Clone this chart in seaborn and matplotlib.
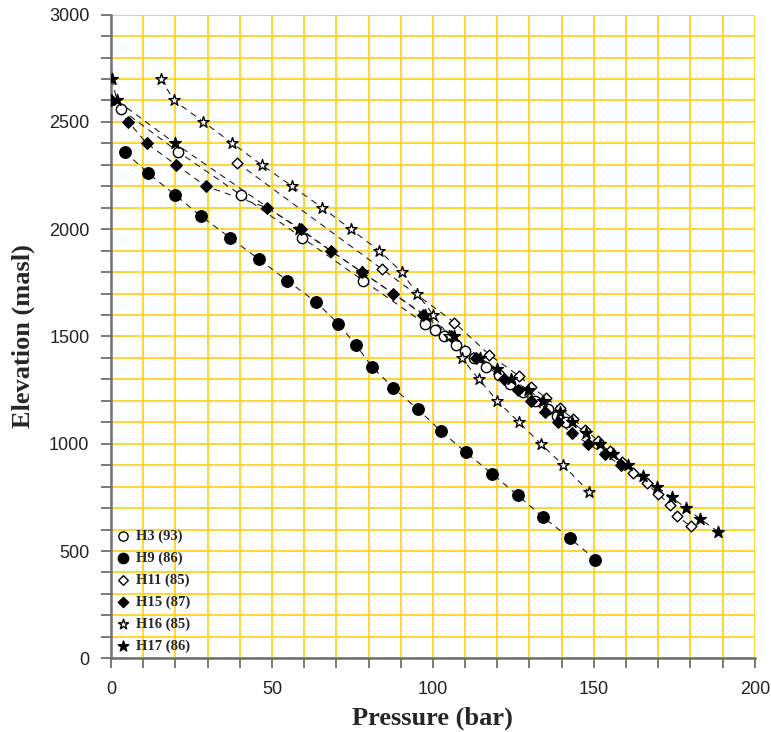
import numpy as np
import pandas as pd
import matplotlib
matplotlib.use("Agg")
import matplotlib.pyplot as plt
from matplotlib.ticker import MultipleLocator
import seaborn as sns

# ---------------- data ----------------
h3_p = [3.0, 20.9, 40.3, 59.4, 78.4, 97.5, 100.5, 103.4, 107.2, 110.0, 112.8, 116.6,
        120.4, 124.0, 128.0, 131.8, 135.8, 138.6, 141.4]
h3_z = [2560, 2360, 2160, 1960, 1760, 1560, 1530, 1500, 1460, 1430, 1400, 1360,
        1320, 1280, 1240, 1200, 1160, 1130, 1100]

h9_p = [4.3, 11.6, 19.9, 28.0, 37.0, 45.9, 54.8, 63.7, 70.6, 76.1, 81.0, 87.7,
        95.4, 102.4, 110.2, 118.4, 126.3, 134.1, 142.5, 150.5]
h9_z = [2360, 2260, 2160, 2060, 1960, 1860, 1760, 1660, 1560, 1460, 1360, 1260,
        1160, 1060, 960, 860, 760, 660, 560, 460]

h11_p = [39.2, 84.1, 106.7, 117.5, 126.8, 130.6, 135.0, 139.4, 143.6, 147.4, 151.2,
         155.0, 158.6, 162.2, 166.4, 170.0, 173.8, 175.7, 180.1]
h11_z = [2310, 1815, 1565, 1415, 1315, 1265, 1215, 1165, 1115, 1065, 1015,
         965, 915, 865, 815, 765, 715, 665, 615]

h15_p = [0.0, 5.4, 11.1, 20.2, 29.5, 48.5, 59.0, 68.2, 78.0, 87.7, 97.0, 105.6,
         113.5, 122.0, 126.3, 130.6, 134.8, 139.0, 143.1, 148.2, 153.4, 158.4]
h15_z = [2600, 2500, 2400, 2300, 2200, 2100, 2000, 1900, 1800, 1700, 1600, 1500,
         1400, 1300, 1250, 1200, 1150, 1100, 1050, 1000, 950, 900]

h16_p = [15.5, 19.6, 28.7, 37.7, 46.8, 56.3, 65.6, 74.5, 83.3, 90.3, 95.1, 100.1,
         105.0, 108.9, 114.3, 120.0, 126.7, 133.5, 140.5, 148.5]
h16_z = [2700, 2600, 2500, 2400, 2300, 2200, 2100, 2000, 1900, 1800, 1700, 1600,
         1500, 1400, 1300, 1200, 1100, 1000, 900, 775]

h17_p = [0.3, 1.8, 19.9, 58.5, 77.9, 97.5, 106.5, 114.6, 119.8, 124.4, 129.6, 134.3,
         139.4, 143.3, 147.6, 151.9, 156.0, 160.7, 165.4, 169.5, 174.2, 178.6, 183.0, 188.6]
h17_z = [2700, 2600, 2400, 2000, 1800, 1600, 1500, 1400, 1350, 1300, 1250, 1200,
         1150, 1100, 1050, 1000, 950, 900, 850, 800, 750, 700, 650, 590]

series_names = ["H3 (93)", "H9 (86)", "H11 (85)", "H15 (87)", "H16 (85)", "H17 (86)"]
series_p = [h3_p, h9_p, h11_p, h15_p, h16_p, h17_p]
series_z = [h3_z, h9_z, h11_z, h15_z, h16_z, h17_z]

x_ticks = [0, 50, 100, 150, 200]
y_ticks = [0, 500, 1000, 1500, 2000, 2500, 3000]

# ---------------- styles ----------------
styles = {
    "H3 (93)":  dict(marker="o", face="white", s=55),
    "H9 (86)":  dict(marker="o", face="black", s=68),
    "H11 (85)": dict(marker="D", face="white", s=30),
    "H15 (87)": dict(marker="D", face="black", s=34),
    "H16 (85)": dict(marker="*", face="white", s=72),
    "H17 (86)": dict(marker="*", face="black", s=78),
}

frames = []
for name, p, z in zip(series_names, series_p, series_z):
    frames.append(pd.DataFrame({"Pressure": p, "Elevation": z, "Well": name}))
df = pd.concat(frames, ignore_index=True)

sns.set_theme(style="white")
plt.rcParams["font.family"] = ["Liberation Sans", "DejaVu Sans"]

fig = plt.figure(figsize=(7.71, 7.32), dpi=100)
ax = fig.add_axes([0.144, 0.1007, 0.835, 0.8793])

grid_col = "#FFD21F"

for name in series_names:
    sub = df[df["Well"] == name]
    sns.lineplot(data=sub, x="Pressure", y="Elevation", ax=ax, sort=False,
                 color="#111111", linewidth=0.75, estimator=None,
                 legend=False, zorder=3)
    ax.lines[-1].set_linestyle((0, (6, 5)))

for name in series_names:
    sub = df[df["Well"] == name]
    st = styles[name]
    sns.scatterplot(data=sub, x="Pressure", y="Elevation", ax=ax,
                    marker=st["marker"], s=st["s"], color=st["face"],
                    edgecolor="black", linewidth=1.0, label=name, zorder=4)

ax.set_xlim(0, 200)
ax.set_ylim(0, 3000)
ax.set_xticks(x_ticks)
ax.set_yticks(y_ticks)
ax.xaxis.set_minor_locator(MultipleLocator(10))
ax.yaxis.set_minor_locator(MultipleLocator(100))

ax.grid(True, which="both", color=grid_col, linewidth=1.3, zorder=0)
ax.set_axisbelow(True)

for side in ["top", "right"]:
    ax.spines[side].set_visible(False)
for side in ["left", "bottom"]:
    ax.spines[side].set_visible(True)
    ax.spines[side].set_color("#6e6e6e")
    ax.spines[side].set_linewidth(1.8)

ax.tick_params(which="both", direction="out", length=7.5, width=1.3,
               color="#6e6e6e", left=True, bottom=True)
ax.tick_params(axis="both", which="major", labelsize=13, labelcolor="#222222")
ax.tick_params(axis="y", which="major", pad=8)
ax.tick_params(axis="x", which="major", pad=9)

label_font = dict(family="Liberation Serif", weight="bold", size=19)
ax.set_xlabel("Pressure (bar)", **label_font, labelpad=6)
ax.set_ylabel("Elevation (masl)", **label_font, labelpad=10)

leg = ax.legend(loc="lower left", bbox_to_anchor=(0.0, 0.0), frameon=False,
                prop=dict(family="Liberation Serif", weight="bold", size=10.5),
                handletextpad=0.35, labelspacing=0.58, handlelength=1.0,
                borderaxespad=0.0, borderpad=0.35, markerscale=0.9)

fig.savefig("out.png", dpi=100)
